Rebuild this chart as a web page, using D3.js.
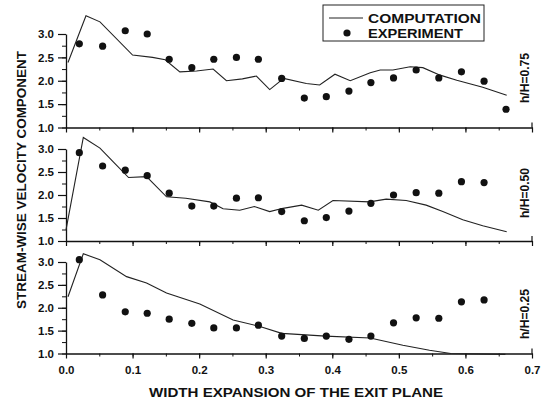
<!DOCTYPE html>
<html><head><meta charset="utf-8">
<script src="https://cdn.jsdelivr.net/npm/d3@7"></script>
<style>
body{margin:0;background:#fff;}
svg text{font-family:"Liberation Sans",Arial,sans-serif;font-weight:bold;fill:#111;}
</style></head>
<body><svg id="c" width="545" height="403"></svg>
<script>
const xTicks = [0,0.1,0.2,0.3,0.4,0.5,0.6,0.7];
const yTicks = [1.0,1.5,2.0,2.5,3.0];
const panelLabels = ["h/H=0.75","h/H=0.50","h/H=0.25"];

const expX75 = [0.02,0.055,0.089,0.122,0.155,0.189,0.222,0.256,0.289,0.324,0.358,0.391,0.425,0.458,0.492,0.526,0.56,0.594,0.628,0.661];
const exp75  = [2.79,2.74,3.07,3.0,2.46,2.28,2.46,2.5,2.46,2.05,1.63,1.66,1.78,1.96,2.06,2.23,2.06,2.19,1.99,1.39];
const expX50 = [0.02,0.055,0.089,0.122,0.155,0.189,0.222,0.256,0.289,0.324,0.358,0.391,0.425,0.458,0.492,0.526,0.56,0.594,0.628];
const exp50  = [2.92,2.63,2.54,2.42,2.04,1.76,1.76,1.93,1.94,1.64,1.44,1.51,1.65,1.82,2.0,2.05,2.04,2.29,2.27];
const expX25 = [0.02,0.055,0.089,0.122,0.155,0.189,0.222,0.256,0.289,0.324,0.358,0.391,0.425,0.458,0.492,0.526,0.56,0.594,0.628];
const exp25  = [3.05,2.28,1.91,1.88,1.75,1.66,1.56,1.56,1.62,1.38,1.33,1.38,1.31,1.38,1.67,1.78,1.77,2.13,2.17];

const compX75 = [0.003,0.03,0.051,0.1,0.13,0.149,0.171,0.196,0.221,0.241,0.265,0.286,0.306,0.327,0.361,0.381,0.404,0.427,0.457,0.472,0.491,0.517,0.536,0.562,0.587,0.626,0.662];
const comp75  = [2.39,3.39,3.26,2.55,2.5,2.45,2.19,2.21,2.25,2.0,2.04,2.1,1.81,2.05,1.94,1.91,2.14,2.0,2.17,2.23,2.23,2.3,2.28,2.12,2.01,1.86,1.69];
const compX50 = [0.0,0.026,0.051,0.071,0.094,0.121,0.151,0.18,0.216,0.236,0.261,0.283,0.306,0.326,0.354,0.379,0.401,0.456,0.481,0.511,0.541,0.566,0.596,0.626,0.662];
const comp50  = [1.24,3.25,3.02,2.72,2.38,2.4,1.96,1.93,1.85,1.70,1.67,1.75,1.64,1.71,1.78,1.67,1.88,1.85,1.91,1.88,1.78,1.64,1.46,1.33,1.20];
const compX25 = [0.003,0.026,0.051,0.091,0.121,0.151,0.201,0.251,0.289,0.324,0.39,0.457,0.506,0.546,0.578,0.66];
const comp25  = [2.24,3.18,3.05,2.68,2.54,2.32,2.08,1.73,1.6,1.44,1.38,1.34,1.18,1.07,1.0,0.98];

const panels = [
  {bottom:127.5, top:34,  ex:expX75, ey:exp75, cx:compX75, cy:comp75, label:panelLabels[0], ly:78},
  {bottom:241,   top:149, ex:expX50, ey:exp50, cx:compX50, cy:comp50, label:panelLabels[1], ly:193},
  {bottom:353.5, top:262, ex:expX25, ey:exp25, cx:compX25, cy:comp25, label:panelLabels[2], ly:314}
];

const FONT = "Liberation Sans, Arial, sans-serif";
const svg = d3.select("#c");
const x = d3.scaleLinear().domain([0,0.7]).range([66,532]);
const minorX = d3.range(0,0.701,0.05);
const minorY = d3.range(1,3.001,0.25);

panels.forEach((p,i)=>{
  const y = d3.scaleLinear().domain([1,3]).range([p.bottom,p.top]);
  const g = svg.append("g");
  g.append("g").attr("transform","translate(66,0)")
    .call(d3.axisLeft(y).tickValues(minorY).tickSize(4).tickFormat(""))
    .call(a=>a.select(".domain").remove())
    .selectAll("line").attr("stroke","#111");
  g.append("g").attr("transform","translate(66,0)")
    .call(d3.axisLeft(y).tickValues(yTicks).tickSize(8).tickSizeOuter(0).tickFormat(d3.format(".1f")))
    .call(a=>{a.select(".domain").attr("stroke","#111").attr("stroke-width",1.3);
      a.selectAll("line").attr("stroke","#111").attr("stroke-width",1.2);
      a.selectAll("text").attr("font-size",11.5).attr("font-weight","bold").attr("font-family",FONT).attr("fill","#111").attr("x",-12);});
  g.append("g").attr("transform",`translate(0,${p.bottom})`)
    .call(d3.axisBottom(x).tickValues(minorX).tickSize(3).tickFormat(""))
    .call(a=>a.select(".domain").remove())
    .selectAll("line").attr("stroke","#111");
  g.append("g").attr("transform",`translate(0,${p.bottom})`)
    .call(d3.axisBottom(x).tickValues(xTicks).tickSize(5).tickSizeOuter(0)
      .tickFormat(i===2 ? d3.format(".1f") : ""))
    .call(a=>{a.select(".domain").attr("stroke","#111").attr("stroke-width",1.6);
      a.selectAll("line").attr("stroke","#111").attr("stroke-width",1.2);
      a.selectAll("text").attr("font-size",11.5).attr("font-weight","bold").attr("font-family",FONT).attr("fill","#111").attr("dy","1.1em");});
  g.append("line").attr("x1",x(0.7)).attr("x2",x(0.7)).attr("y1",p.bottom).attr("y2",p.bottom-5)
    .attr("stroke","#111").attr("stroke-width",1.2);
  const pts = p.cx.map((d,k)=>[d,p.cy[k]]);
  g.append("path").datum(pts)
    .attr("d",d3.line().x(d=>x(d[0])).y(d=>y(d[1])))
    .attr("fill","none").attr("stroke","#222").attr("stroke-width",1.1);
  g.selectAll("circle").data(p.ex.map((d,k)=>[d,p.ey[k]])).join("circle")
    .attr("cx",d=>x(d[0])).attr("cy",d=>y(d[1])).attr("r",3.6).attr("fill","#111");
  svg.append("text").attr("transform",`translate(529,${p.ly}) rotate(-90)`)
    .attr("text-anchor","middle").attr("font-size",13).attr("font-weight","normal")
    .attr("textLength",50).attr("lengthAdjust","spacingAndGlyphs").text(p.label);
});

svg.append("text").attr("transform","translate(26,180) rotate(-90)")
  .attr("text-anchor","middle").attr("font-size",13)
  .attr("textLength",258).attr("lengthAdjust","spacingAndGlyphs")
  .text("STREAM-WISE VELOCITY COMPONENT");
svg.append("text").attr("x",296).attr("y",397)
  .attr("text-anchor","middle").attr("font-size",13)
  .attr("textLength",294).attr("lengthAdjust","spacingAndGlyphs")
  .text("WIDTH EXPANSION OF THE EXIT PLANE");

const lg = svg.append("g");
lg.append("rect").attr("x",323).attr("y",5).attr("width",161).attr("height",36)
  .attr("fill","#fff").attr("stroke","#222").attr("stroke-width",1);
lg.append("line").attr("x1",329).attr("x2",363).attr("y1",18).attr("y2",18).attr("stroke","#222").attr("stroke-width",1);
lg.append("text").attr("x",368).attr("y",23).attr("font-size",13.5)
  .attr("textLength",113).attr("lengthAdjust","spacingAndGlyphs").text("COMPUTATION");
lg.append("circle").attr("cx",347).attr("cy",33).attr("r",3.6).attr("fill","#111");
lg.append("text").attr("x",368).attr("y",38).attr("font-size",13.5)
  .attr("textLength",95).attr("lengthAdjust","spacingAndGlyphs").text("EXPERIMENT");
</script></body></html>
